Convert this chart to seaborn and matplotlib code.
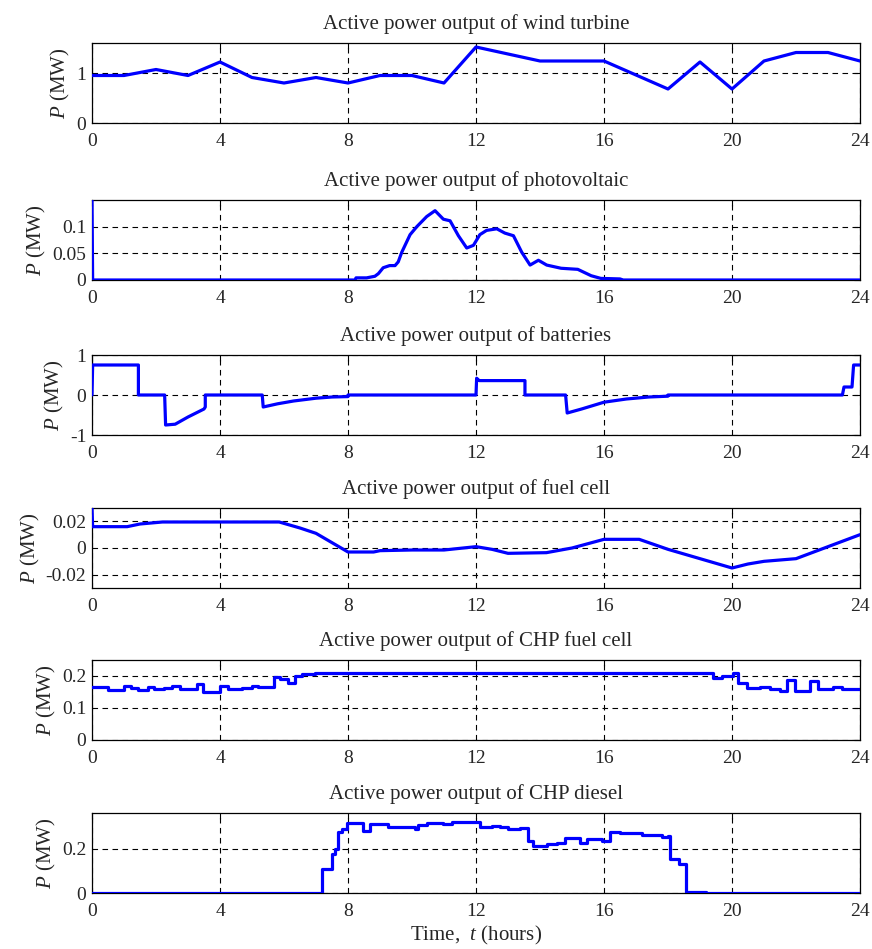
import matplotlib
matplotlib.use("Agg")
import matplotlib.pyplot as plt
import seaborn as sns
import pandas as pd

# ---------------- data ----------------
wind_t = [0, 1, 2, 3, 4, 5, 6, 7, 8, 9, 10, 11, 12, 13, 14, 16, 17, 18, 19, 20, 21, 22, 23, 24]
wind_p = [0.95, 0.95, 1.07, 0.95, 1.22, 0.91, 0.80, 0.91, 0.80, 0.95, 0.95, 0.80, 1.52, 1.38,
          1.24, 1.24, 0.96, 0.68, 1.22, 0.68, 1.24, 1.41, 1.41, 1.24]

pv_t = [0, 0.02, 8.22, 8.25, 8.58, 8.84, 8.95, 9.1, 9.3, 9.47, 9.57, 9.68, 9.94, 10.15, 10.46,
        10.72, 10.98, 11.19, 11.45, 11.71, 11.92, 12.12, 12.33, 12.65, 12.9, 13.17, 13.43, 13.69,
        13.95, 14.21, 14.66, 15.18, 15.6, 15.9, 16.5, 16.6, 24]
pv_p = [0.15, 0, 0, 0.004, 0.004, 0.007, 0.012, 0.023, 0.027, 0.027, 0.034, 0.052, 0.085, 0.1,
        0.119, 0.13, 0.114, 0.111, 0.083, 0.06, 0.065, 0.085, 0.093, 0.096, 0.088, 0.083, 0.052,
        0.028, 0.037, 0.028, 0.022, 0.02, 0.008, 0.003, 0.002, 0, 0]

bat_t = [0, 0.02, 1.45, 1.45, 2.27, 2.3, 2.6, 3.0, 3.5, 3.54, 3.54, 5.32, 5.35, 5.8, 6.3, 7.0,
         7.5, 8.0, 8.0, 12.0, 12.02, 12.1, 13.53, 13.53, 14.8, 14.85, 15.3, 16.0, 16.7, 17.4,
         18.0, 18.0, 23.45, 23.5, 23.75, 23.8, 24]
bat_p = [0, 0.75, 0.75, 0, 0, -0.75, -0.73, -0.55, -0.35, -0.3, 0, 0, -0.3, -0.22, -0.15, -0.08,
         -0.05, -0.04, 0, 0, 0.42, 0.36, 0.36, 0, 0, -0.45, -0.35, -0.18, -0.1, -0.05,
         -0.03, 0, 0, 0.2, 0.2, 0.75, 0.75]

fc_t = [0, 0.02, 1.1, 1.5, 2.2, 5.85, 6.5, 7.0, 7.5, 8.0, 8.8, 9.0, 10.0, 11.0, 12.0, 12.5, 13.0,
        14.2, 15.0, 16.0, 17.1, 18.0, 19.0, 20.0, 20.5, 21.0, 22.0, 23.0, 24.0]
fc_p = [0.03, 0.016, 0.016, 0.018, 0.0195, 0.0195, 0.015, 0.011, 0.004, -0.003, -0.003, -0.002,
        -0.0015, -0.0015, 0.001, -0.001, -0.004, -0.0035, 0.0, 0.0065, 0.0065, -0.001, -0.008,
        -0.015, -0.012, -0.01, -0.008, 0.001, 0.01]

chpfc_t = [0, 0.51, 1.01, 1.22, 1.45, 1.74, 1.95, 2.26, 2.51, 2.75, 3.27, 3.48, 4.0, 4.26, 4.68,
           4.99, 5.2, 5.7, 5.88, 6.13, 6.34, 6.55, 6.97, 19.42, 19.68, 20.02, 20.2, 20.46, 20.88,
           21.19, 21.5, 21.71, 21.97, 22.44, 22.7, 23.17, 23.43, 24]
chpfc_p = [0.167, 0.155, 0.17, 0.162, 0.156, 0.167, 0.158, 0.164, 0.168, 0.16, 0.174, 0.15, 0.168,
           0.16, 0.162, 0.17, 0.167, 0.198, 0.19, 0.177, 0.2, 0.205, 0.208, 0.193, 0.2, 0.208,
           0.177, 0.164, 0.167, 0.16, 0.152, 0.188, 0.152, 0.185, 0.16, 0.167, 0.16, 0.16]

dsl_t = [0, 7.2, 7.3, 7.49, 7.59, 7.7, 7.8, 7.96, 8.48, 8.69, 9.26, 10.09, 10.2, 10.46, 10.98,
         11.24, 12.12, 12.49, 12.75, 13.01, 13.38, 13.63, 13.79, 14.21, 14.52, 14.78, 15.25,
         15.46, 15.93, 16.19, 16.5, 17.2, 17.8, 18.0, 18.06, 18.33, 18.55, 19.2, 24]
dsl_p = [0, 0.106, 0.11, 0.174, 0.197, 0.273, 0.288, 0.314, 0.28, 0.31, 0.298, 0.288, 0.308,
         0.315, 0.31, 0.318, 0.298, 0.303, 0.295, 0.288, 0.292, 0.235, 0.212, 0.22, 0.227, 0.247,
         0.227, 0.242, 0.235, 0.273, 0.268, 0.262, 0.25, 0.255, 0.155, 0.13, 0.006, 0.0, 0.0]

titles = ["Active power output of wind turbine",
          "Active power output of photovoltaic",
          "Active power output of batteries",
          "Active power output of fuel cell",
          "Active power output of CHP fuel cell",
          "Active power output of CHP diesel"]
x_ticks = [0, 4, 8, 12, 16, 20, 24]
y_ticks = [[0, 1], [0, 0.05, 0.1], [-1, 0, 1], [-0.02, 0, 0.02], [0, 0.1, 0.2], [0, 0.2]]
y_tick_labels = [["0", "1"], ["0", "0.05", "0.1"], ["-1", "0", "1"],
                 ["-0.02", "0", "0.02"], ["0", "0.1", "0.2"], ["0", "0.2"]]
y_lims = [(0, 1.6), (0, 0.15), (-1, 1), (-0.03, 0.03), (0, 0.25), (0, 0.36)]

series = [(wind_t, wind_p, None), (pv_t, pv_p, None), (bat_t, bat_p, None),
          (fc_t, fc_p, None), (chpfc_t, chpfc_p, "steps-post"), (dsl_t, dsl_p, "steps-post")]

# ---------------- style ----------------
sns.set_style("white")
plt.rcParams["font.family"] = ["Liberation Serif", "DejaVu Serif"]
plt.rcParams["mathtext.fontset"] = "custom"
plt.rcParams["mathtext.rm"] = "Liberation Serif"
plt.rcParams["mathtext.it"] = "Liberation Serif:italic"

W, H = 872, 949
fig = plt.figure(figsize=(W / 100, H / 100), dpi=100)

left_px, right_px = 92, 860
tops = [43, 200, 355, 508, 660, 813]
ax_h = 80

for i, (t, p, ds) in enumerate(series):
    top = tops[i]
    ax = fig.add_axes([left_px / W, 1 - (top + ax_h) / H, (right_px - left_px) / W, ax_h / H])
    df = pd.DataFrame({"t": t, "P": p})
    kw = {}
    if ds:
        kw["drawstyle"] = ds
    sns.lineplot(data=df, x="t", y="P", ax=ax, color="#0000FF", linewidth=2.3,
                 estimator=None, sort=False, zorder=3, **kw)
    ax.set_xlim(0, 24)
    ax.set_ylim(*y_lims[i])
    ax.set_xticks(x_ticks)
    ax.set_xticklabels([str(v) for v in x_ticks])
    ax.set_yticks(y_ticks[i])
    ax.set_yticklabels(y_tick_labels[i])
    ax.tick_params(direction="in", length=4, width=0.8, labelsize=14, color="black",
                   top=True, right=True)
    ax.tick_params(axis="x", pad=7)
    ax.tick_params(axis="y", pad=4)
    for s in ax.spines.values():
        s.set_visible(True)
        s.set_color("black")
        s.set_linewidth(0.9)
    ax.grid(True, color="black", linestyle=(0, (5, 4)), linewidth=0.8, zorder=1)
    ax.set_axisbelow(True)
    ax.set_title(titles[i], fontsize=15, pad=10)
    ax.set_ylabel("$P$ (MW)", fontsize=15, labelpad=3)
    if i == 5:
        ax.set_xlabel("Time,  $t$ (hours)", fontsize=15, labelpad=3)
    else:
        ax.set_xlabel("")

fig.savefig("out.png", dpi=100)
